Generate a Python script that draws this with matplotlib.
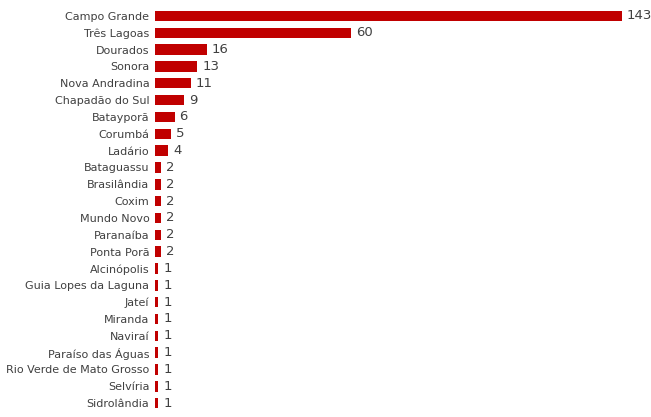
import matplotlib.pyplot as plt

cities = ["Campo Grande", "Três Lagoas", "Dourados", "Sonora", "Nova Andradina",
          "Chapadão do Sul", "Batayporã", "Corumbá", "Ladário", "Bataguassu",
          "Brasilândia", "Coxim", "Mundo Novo", "Paranaíba", "Ponta Porã",
          "Alcinópolis", "Guia Lopes da Laguna", "Jateí", "Miranda", "Naviraí",
          "Paraíso das Águas", "Rio Verde de Mato Grosso", "Selvíria", "Sidrolândia"]
counts = [143, 60, 16, 13, 11, 9, 6, 5, 4, 2, 2, 2, 2, 2, 2, 1, 1, 1, 1, 1, 1, 1, 1, 1]

fig = plt.figure(figsize=(6.51, 4.17), dpi=100)
ax = fig.add_axes([0.238, 0.013, 0.717, 0.969])
y = range(len(cities))
ax.barh(y, counts, height=0.62, color="#c00000")
ax.set_ylim(len(cities) - 0.5, -0.5)
ax.set_xlim(0, 143)
ax.set_yticks(list(y))
ax.set_yticklabels(cities, fontsize=8, color="#404040")
ax.tick_params(axis="y", length=0, pad=4)
ax.set_xticks([])
for s in ax.spines.values():
    s.set_visible(False)
for i, v in enumerate(counts):
    ax.text(v + 1.5, i, str(v), va="center", ha="left", fontsize=9.5, color="#404040")
fig.savefig("out.png", dpi=100)
